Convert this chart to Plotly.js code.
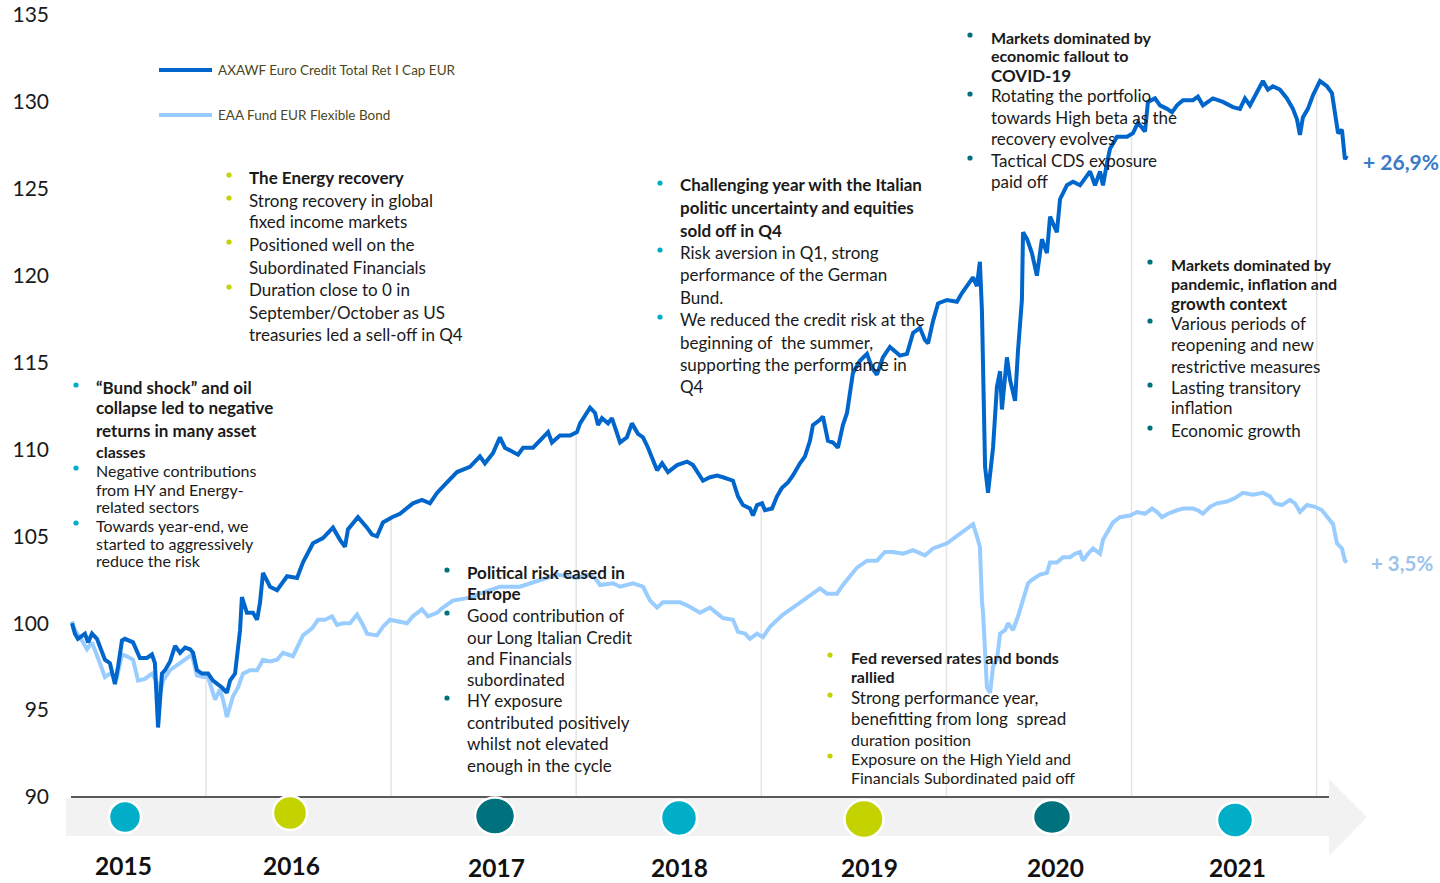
<!DOCTYPE html>
<html><head><meta charset="utf-8">
<script src="https://cdn.plot.ly/plotly-3.0.1.min.js"></script>
<style>html,body{margin:0;padding:0;background:#fff}#chart{width:1440px;height:883px}</style>
</head><body><div id="chart"></div>
<script>
// ---------------- DATA ----------------
const fundName = "AXAWF Euro Credit Total Ret I Cap EUR";
const peerName = "EAA Fund EUR Flexible Bond";
// time as decimal years
const fundTime = [2015.276,2015.292,2015.308,2015.346,2015.363,2015.384,2015.411,2015.438,2015.454,2015.481,2015.508,2015.525,2015.546,2015.562,2015.606,2015.643,2015.681,2015.708,2015.724,2015.741,2015.762,2015.779,2015.806,2015.833,2015.860,2015.887,2015.914,2015.930,2015.951,2015.978,2016.011,2016.038,2016.065,2016.086,2016.113,2016.130,2016.157,2016.173,2016.184,2016.194,2016.221,2016.254,2016.276,2016.292,2016.308,2016.346,2016.384,2016.438,2016.492,2016.524,2016.546,2016.578,2016.632,2016.686,2016.724,2016.751,2016.767,2016.821,2016.870,2016.897,2016.924,2016.956,2017.005,2017.048,2017.118,2017.167,2017.210,2017.248,2017.302,2017.356,2017.426,2017.480,2017.507,2017.551,2017.588,2017.615,2017.686,2017.713,2017.767,2017.821,2017.848,2017.869,2017.912,2017.967,2018.004,2018.021,2018.075,2018.102,2018.118,2018.139,2018.172,2018.193,2018.220,2018.237,2018.274,2018.301,2018.334,2018.361,2018.388,2018.415,2018.437,2018.464,2018.496,2018.545,2018.599,2018.631,2018.685,2018.723,2018.761,2018.793,2018.847,2018.874,2018.901,2018.939,2018.955,2018.977,2019.004,2019.020,2019.058,2019.085,2019.112,2019.144,2019.171,2019.209,2019.236,2019.263,2019.279,2019.317,2019.333,2019.360,2019.387,2019.414,2019.441,2019.463,2019.479,2019.495,2019.533,2019.571,2019.598,2019.625,2019.657,2019.695,2019.749,2019.787,2019.820,2019.857,2019.884,2019.901,2019.928,2019.955,2020.003,2020.057,2020.084,2020.144,2020.165,2020.181,2020.192,2020.198,2020.209,2020.225,2020.236,2020.252,2020.273,2020.290,2020.300,2020.327,2020.344,2020.371,2020.387,2020.408,2020.414,2020.436,2020.462,2020.489,2020.516,2020.543,2020.560,2020.597,2020.614,2020.651,2020.684,2020.722,2020.776,2020.803,2020.830,2020.846,2020.868,2020.884,2020.922,2020.976,2021.008,2021.035,2021.073,2021.089,2021.127,2021.154,2021.192,2021.219,2021.246,2021.278,2021.332,2021.359,2021.386,2021.440,2021.494,2021.548,2021.586,2021.613,2021.640,2021.678,2021.710,2021.737,2021.764,2021.802,2021.840,2021.872,2021.894,2021.910,2021.926,2021.953,2021.981,2022.018,2022.056,2022.083,2022.099,2022.116,2022.137,2022.153,2022.164];
const fundValues = [100.0,99.4,99.1,99.4,98.9,99.4,99.1,98.3,97.9,97.7,96.5,97.5,99.0,99.1,98.9,98.0,98.0,98.2,97.7,94.0,97.1,97.3,97.8,98.7,98.3,98.6,98.5,98.3,97.3,97.1,97.1,96.7,96.5,96.3,96.0,96.7,97.1,98.5,99.6,101.5,100.6,100.6,100.2,101.2,102.9,102.1,101.9,102.7,102.6,103.5,104.0,104.6,104.9,105.5,104.8,104.4,105.4,106.1,105.5,105.1,105.0,105.8,106.1,106.3,106.9,107.1,106.9,107.5,108.1,108.7,109.0,109.6,109.2,109.8,110.7,110.1,109.7,110.1,110.1,110.7,111.0,110.4,110.8,110.8,111.0,111.5,112.4,112.1,111.4,111.8,111.5,111.8,110.9,110.4,110.7,111.5,110.9,110.7,110.1,109.4,108.8,109.2,108.7,109.1,109.3,109.1,108.2,108.4,108.5,108.4,108.2,107.3,106.8,106.6,106.2,106.8,106.9,106.5,106.6,107.3,107.8,108.1,108.5,109.2,109.6,110.5,111.4,111.7,111.9,110.5,110.4,110.1,111.4,112.1,113.2,114.4,115.1,115.5,114.7,114.3,115.3,115.9,115.4,115.5,116.7,117.0,116.3,116.1,117.4,118.4,118.6,118.5,119.0,119.9,119.4,120.8,118.0,115.1,109.0,107.5,108.6,110.1,113.6,114.5,112.3,115.3,114.0,112.8,115.7,118.6,122.5,122.1,121.3,120.0,122.1,121.3,123.4,122.5,124.4,125.2,125.4,125.2,126.0,125.2,126.0,125.2,126.5,127.3,128.0,128.0,128.2,128.8,128.3,130.0,130.2,129.8,129.6,129.4,129.8,130.1,130.1,130.3,129.8,130.2,130.0,129.7,129.6,130.2,129.8,130.5,131.2,130.7,130.9,130.7,130.2,129.6,129.0,128.1,129.1,129.6,130.4,131.2,130.9,130.5,129.4,128.2,128.4,126.7,126.9];
const peerTime = [2015.276,2015.292,2015.330,2015.357,2015.384,2015.400,2015.427,2015.454,2015.481,2015.519,2015.546,2015.573,2015.606,2015.633,2015.670,2015.708,2015.735,2015.751,2015.768,2015.806,2015.843,2015.887,2015.924,2015.951,2015.984,2016.011,2016.049,2016.076,2016.092,2016.113,2016.130,2016.146,2016.173,2016.200,2016.238,2016.276,2016.308,2016.346,2016.384,2016.416,2016.443,2016.470,2016.492,2016.524,2016.573,2016.605,2016.643,2016.681,2016.708,2016.740,2016.778,2016.816,2016.848,2016.870,2016.924,2016.956,2016.994,2017.037,2017.086,2017.118,2017.167,2017.199,2017.248,2017.280,2017.334,2017.388,2017.442,2017.480,2017.588,2017.696,2017.804,2017.896,2018.004,2018.058,2018.102,2018.129,2018.199,2018.237,2018.307,2018.361,2018.399,2018.437,2018.469,2018.523,2018.561,2018.604,2018.669,2018.723,2018.761,2018.793,2018.847,2018.874,2018.912,2018.939,2018.977,2019.009,2019.047,2019.085,2019.117,2019.171,2019.209,2019.263,2019.317,2019.355,2019.409,2019.441,2019.463,2019.517,2019.571,2019.625,2019.668,2019.712,2019.766,2019.820,2019.884,2019.928,2020.003,2020.057,2020.111,2020.144,2020.165,2020.181,2020.192,2020.198,2020.219,2020.236,2020.252,2020.273,2020.290,2020.317,2020.333,2020.360,2020.387,2020.408,2020.425,2020.441,2020.462,2020.506,2020.543,2020.560,2020.597,2020.630,2020.668,2020.695,2020.722,2020.738,2020.765,2020.792,2020.830,2020.846,2020.868,2020.900,2020.938,2020.992,2021.030,2021.073,2021.111,2021.138,2021.165,2021.197,2021.246,2021.278,2021.332,2021.359,2021.386,2021.424,2021.462,2021.516,2021.559,2021.602,2021.656,2021.710,2021.748,2021.775,2021.813,2021.856,2021.883,2021.910,2021.948,2021.991,2022.029,2022.062,2022.089,2022.110,2022.137,2022.153,2022.164];
const peerValues = [100.1,99.6,99.0,98.5,98.9,98.5,97.7,96.9,97.1,96.9,98.2,98.1,97.9,96.7,96.8,97.1,96.6,95.9,96.7,97.3,97.6,97.9,98.2,97.0,96.9,96.9,95.6,96.2,95.6,94.6,95.2,95.8,96.3,97.1,97.3,97.3,97.9,97.8,97.9,98.3,98.2,98.1,98.6,99.3,99.7,100.2,100.2,100.4,99.9,100.0,100.0,100.5,99.9,99.4,99.3,99.8,100.2,100.1,100.0,100.4,100.8,100.4,100.6,100.9,101.3,101.4,101.5,101.7,102.1,102.1,102.5,102.8,102.6,102.8,102.6,102.2,102.3,102.1,102.3,102.1,101.3,100.9,101.2,101.2,101.2,101.0,100.6,100.9,100.6,100.3,100.2,99.5,99.4,99.1,99.4,99.2,99.8,100.2,100.5,100.9,101.2,101.6,102.0,101.7,101.7,102.2,102.5,103.2,103.6,103.6,104.1,104.1,104.0,104.2,103.9,104.3,104.6,105.0,105.4,105.7,105.0,104.4,101.3,100.6,96.3,96.0,97.5,97.9,99.4,99.6,100.0,99.6,100.4,101.2,101.9,102.3,102.5,102.8,102.9,103.5,103.5,103.8,103.8,104.0,104.1,103.6,104.0,104.3,104.0,104.8,105.2,105.8,106.1,106.2,106.4,106.3,106.6,106.4,106.1,106.3,106.5,106.6,106.6,106.5,106.3,106.7,106.9,107.0,107.2,107.5,107.4,107.5,107.3,106.9,106.8,107.1,106.9,106.4,106.8,106.7,106.5,106.1,105.7,104.6,104.3,103.6,103.5];
const fundReturnLabel = "+ 26,9%";
const peerReturnLabel = "+ 3,5%";
const yTicks = [90,95,100,105,110,115,120,125,130,135];
const yearBoundaries = [2016,2017,2018,2019,2020,2021,2022];
const timelineYears = ["2015","2016","2017","2018","2019","2020","2021"];
// commentary ("• " starts a bullet)
const noteEnergy = ["• <b>The Energy recovery</b>","• Strong recovery in global","fixed income markets","• Positioned well on the","Subordinated Financials","• Duration close to 0 in","September/October as US","treasuries led a sell-off in Q4"];
const noteBund = ["• <b>“Bund shock” and oil</b>","<b>collapse led to negative</b>","<b>returns in many asset</b>","<b>classes</b>","• Negative contributions","from HY and Energy-","related sectors","• Towards year-end, we","started to aggressively","reduce the risk"];
const notePolitical = ["• <b>Political risk eased in</b>","<b>Europe</b>","• Good contribution of","our Long Italian Credit","and Financials","subordinated","• HY exposure","contributed positively","whilst not elevated","enough in the cycle"];
const noteItaly = ["• <b>Challenging year with the Italian</b>","<b>politic uncertainty and equities</b>","<b>sold off in Q4</b>","• Risk aversion in Q1, strong","performance of the German","Bund.","• We reduced the credit risk at the","beginning of  the summer,","supporting the performance in","Q4"];
const noteFed = ["• <b>Fed reversed rates and bonds</b>","<b>rallied</b>","• Strong performance year,","benefitting from long  spread","duration position","• Exposure on the High Yield and","Financials Subordinated paid off"];
const noteCovid = ["• <b>Markets dominated by</b>","<b>economic fallout to</b>","<b>COVID-19</b>","• Rotating the portfolio","towards High beta as the","recovery evolves","• Tactical CDS exposure","paid off"];
const notePandemic = ["• <b>Markets dominated by</b>","<b>pandemic, inflation and</b>","<b>growth context</b>","• Various periods of","reopening and new","restrictive measures","• Lasting transitory","inflation","• Economic growth"];

// ---------------- LAYOUT / STYLE ----------------
const L = 66, R = 1350, T = 15, B = 797;
const px = x => (x - L) / (R - L);
const py = y => (B - y) / (B - T);
const FONT = "Lato, 'Open Sans', sans-serif";
const C_FUND = "#0066cc", C_PEER = "#99ccff";
const C_CYAN = "#00afc7", C_LIME = "#c4d300", C_TEAL = "#00727e";
const TXT = "#1a1a1a";

const blocks = [
  {lines: noteEnergy, color: C_LIME, bx: 229, tx: 248, ys: [177,200,222,244,267,289,312,334]},
  {lines: noteBund, color: C_CYAN, bx: 76, tx: 95, ys: [387,408,430,451,470,489,507,525,543,560]},
  {lines: notePolitical, color: C_TEAL, bx: 447, tx: 466, ys: [572,594,615,637,658,679,700,722,743,765]},
  {lines: noteItaly, color: C_CYAN, bx: 660, tx: 679, ys: [185,207,230,252,274,297,319,342,364,386]},
  {lines: noteFed, color: C_LIME, bx: 830, tx: 850, ys: [657,676,697,718,739,758,777]},
  {lines: noteCovid, color: C_TEAL, bx: 970, tx: 990, ys: [37,56,76,96,118,139,160,182]},
  {lines: notePandemic, color: C_TEAL, bx: 1150, tx: 1170, ys: [264,283,303,323,344,366,387,408,430]}
];

const shapes = [];
const annotations = [];

// timeline arrow band
const ap = [[66,798],[1329,798],[1329,779],[1367,817],[1329,856],[1329,836],[66,836]];
shapes.push({type:'path', xref:'paper', yref:'paper', layer:'above',
  path: 'M' + ap.map(p => px(p[0]).toFixed(5) + ',' + py(p[1]).toFixed(5)).join(' L') + ' Z',
  fillcolor:'#f2f2f2', line:{width:0}});
// axis base line
shapes.push({type:'line', xref:'paper', yref:'paper', layer:'above',
  x0:px(71), x1:px(1329), y0:py(797), y1:py(797), line:{color:'#595959', width:2}});

// drop lines at year boundaries, up to fund series
function interp(t){
  for (let i = 1; i < fundTime.length; i++){
    if (fundTime[i] >= t){
      const f = (t - fundTime[i-1]) / (fundTime[i] - fundTime[i-1]);
      return fundValues[i-1] + f * (fundValues[i] - fundValues[i-1]);
    }
  }
  return fundValues[fundValues.length-1];
}
yearBoundaries.forEach(yr => {
  shapes.push({type:'line', xref:'x', yref:'y', layer:'below', x0:yr, x1:yr, y0:90, y1:interp(yr),
    line:{color:'#e4e4e4', width:1.5}});
});

// timeline circles and year labels
const circColors = [C_CYAN, C_LIME, C_TEAL, C_CYAN, C_LIME, C_TEAL, C_CYAN];
const circGeo = [[125,817,16,16],[290,813,17,17],[495,816,20,18.5],[679,818,18,18],[864,819,19.5,19],[1052,817,19,17],[1235,820,18,17.5]];
const yearLabelPos = [[123,881],[291,881],[496,883],[679,883],[869,883],[1055,883],[1237,883]];
timelineYears.forEach((yr, i) => {
  const g = circGeo[i];
  shapes.push({type:'circle', xref:'paper', yref:'paper', layer:'above',
    x0:px(g[0]-g[2]), x1:px(g[0]+g[2]), y0:py(g[1]+g[3]), y1:py(g[1]-g[3]),
    fillcolor:circColors[i], line:{color:'#ffffff', width:2.5}});
  annotations.push({xref:'paper', yref:'paper', x:px(yearLabelPos[i][0]), y:py(yearLabelPos[i][1]),
    xanchor:'center', yanchor:'bottom', showarrow:false, text:'<b>'+yr+'</b>', borderpad:0,
    font:{family:FONT, size:24.5, color:'#111'}});
});

// legend (drawn manually)
[[fundName, C_FUND, 70],[peerName, C_PEER, 115]].forEach(([name, col, y]) => {
  shapes.push({type:'line', xref:'paper', yref:'paper', layer:'above', x0:px(159), x1:px(212), y0:py(y), y1:py(y),
    line:{color:col, width:4}});
  annotations.push({xref:'paper', yref:'paper', x:px(216), y:py(y), xanchor:'left', yanchor:'middle',
    showarrow:false, text:name, font:{family:FONT, size:13.5, color:'#4b4722'}});
});

// commentary blocks (tightly spaced lines use a slightly smaller size)
blocks.forEach(b => {
  b.lines.forEach((line, i) => {
    let text = line;
    if (text.startsWith('• ')){
      text = text.slice(2);
      const r = 2.6, cy = b.ys[i] - 2;
      shapes.push({type:'circle', xref:'paper', yref:'paper', layer:'above',
        x0:px(b.bx-r), x1:px(b.bx+r), y0:py(cy+r), y1:py(cy-r), fillcolor:b.color, line:{width:0}});
    }
    const gapPrev = i > 0 ? b.ys[i] - b.ys[i-1] : 99;
    const gapNext = i < b.ys.length - 1 ? b.ys[i+1] - b.ys[i] : 99;
    const size = Math.min(gapPrev, gapNext) < 20 ? 16 : 17;
    annotations.push({xref:'paper', yref:'paper', x:px(b.tx), y:py(b.ys[i]), xanchor:'left', yanchor:'middle',
      showarrow:false, text:text, font:{family:FONT, size:size, color:TXT}, borderpad:0});
  });
});

// end-of-series return labels
annotations.push({xref:'paper', yref:'paper', x:px(1361), y:py(161), xanchor:'left', yanchor:'middle', showarrow:false,
  text:'<b>'+fundReturnLabel+'</b>', font:{family:FONT, size:21, color:'#3a7ac6'}});
annotations.push({xref:'paper', yref:'paper', x:px(1369), y:py(563), xanchor:'left', yanchor:'middle', showarrow:false,
  text:'<b>'+peerReturnLabel+'</b>', font:{family:FONT, size:20.5, color:'#9cc3ea'}});

const traces = [
  {x: peerTime, y: peerValues, type:'scatter', mode:'lines', name: peerName,
   line:{color:C_PEER, width:4}, hoverinfo:'skip'},
  {x: fundTime, y: fundValues, type:'scatter', mode:'lines', name: fundName,
   line:{color:C_FUND, width:4}, hoverinfo:'skip'}
];

const layout = {
  width:1440, height:883,
  margin:{l:L, r:1440-R, t:T, b:883-B, pad:0},
  paper_bgcolor:'#ffffff', plot_bgcolor:'#ffffff',
  showlegend:false,
  font:{family:FONT, color:TXT},
  xaxis:{type:'linear', range:[2015.2437, 2022.1805], showgrid:false, zeroline:false, showline:false,
         showticklabels:false, ticks:'', fixedrange:true},
  yaxis:{range:[90,135], tickvals:yTicks, ticktext:yTicks.map(String), showgrid:false, zeroline:false,
         showline:false, ticks:'', ticklabelstandoff:16, tickfont:{family:FONT, size:21, color:TXT}, fixedrange:true},
  shapes: shapes,
  annotations: annotations
};

Plotly.newPlot('chart', traces, layout, {displayModeBar:false, staticPlot:true});
</script>
</body></html>
